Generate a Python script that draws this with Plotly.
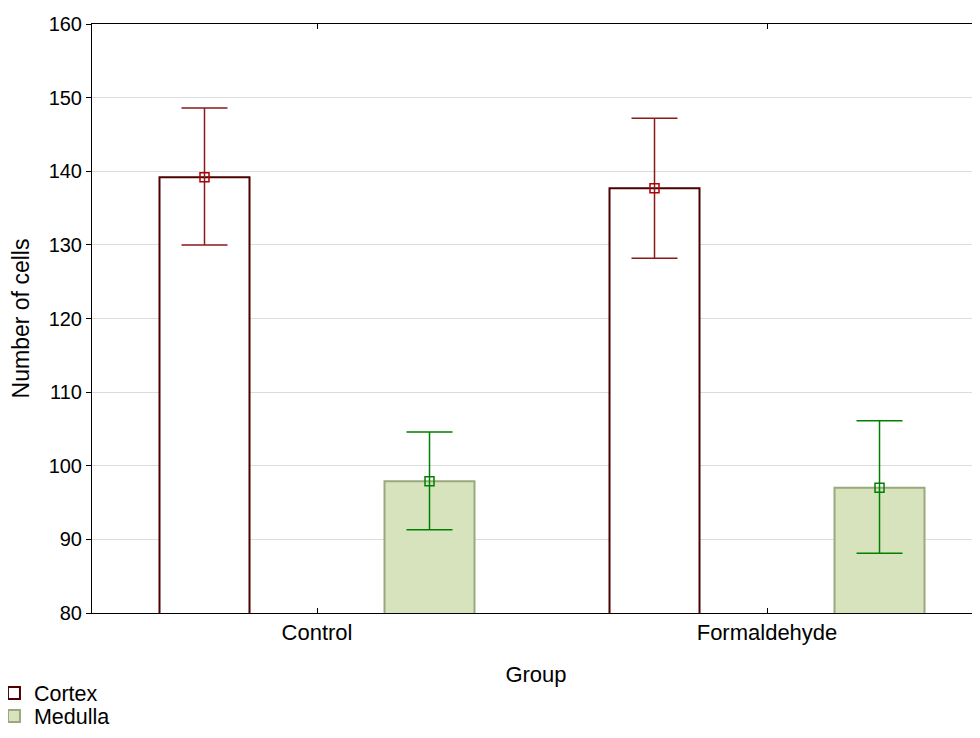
import plotly.graph_objects as go

groups = ["Control", "Formaldehyde"]
cortex_mean = [139.2, 137.7]
cortex_upper = [148.6, 147.2]
cortex_lower = [130.0, 128.2]
medulla_mean = [97.9, 97.0]
medulla_upper = [104.6, 106.1]
medulla_lower = [91.3, 88.1]
yticks = [80, 90, 100, 110, 120, 130, 140, 150, 160]

xpos = list(range(len(groups)))
FONT = "Liberation Sans, Arial, sans-serif"

def err(mean, up, lo):
    return ([u - m for m, u in zip(mean, up)], [m - l for m, l in zip(mean, lo)])

c_plus, c_minus = err(cortex_mean, cortex_upper, cortex_lower)
m_plus, m_minus = err(medulla_mean, medulla_upper, medulla_lower)

fig = go.Figure()
fig.add_trace(go.Bar(
    x=xpos, y=cortex_mean, name="Cortex", width=0.2, offset=-0.35, legend="legend",
    marker=dict(color="white", line=dict(color="#4d0000", width=2)),
))
fig.add_trace(go.Bar(
    x=xpos, y=medulla_mean, name="Medulla", width=0.2, offset=0.15, legend="legend2",
    marker=dict(color="#d7e3bd", line=dict(color="#9aa87e", width=2)),
))
fig.add_trace(go.Scatter(
    x=[p - 0.25 for p in xpos], y=cortex_mean, mode="markers", showlegend=False,
    marker=dict(symbol="square-open", size=9, color="#b00000", line=dict(width=1.5)),
    error_y=dict(type="data", symmetric=False, array=c_plus, arrayminus=c_minus,
                 color="#8b1a1a", thickness=1.5, width=23),
))
fig.add_trace(go.Scatter(
    x=[p + 0.25 for p in xpos], y=medulla_mean, mode="markers", showlegend=False,
    marker=dict(symbol="square-open", size=9, color="#008000", line=dict(width=1.5)),
    error_y=dict(type="data", symmetric=False, array=m_plus, arrayminus=m_minus,
                 color="#008000", thickness=1.5, width=23),
))

legend_style = dict(xanchor="left", yanchor="middle", bgcolor="rgba(0,0,0,0)",
                    font=dict(size=21.5), itemwidth=30)

fig.update_layout(
    width=972, height=722,
    margin=dict(l=84, r=0, t=16, b=117, autoexpand=False),
    paper_bgcolor="white", plot_bgcolor="white",
    barmode="overlay",
    font=dict(family=FONT, size=20, color="black"),
    showlegend=True,
    legend=dict(x=-0.1104, y=-0.1358, **legend_style),
    legend2=dict(x=-0.1104, y=-0.1749, **legend_style),
)
fig.update_xaxes(
    range=[-0.5, 1.4733], tickmode="array", tickvals=xpos, ticktext=groups,
    ticks="inside", ticklen=5, tickcolor="black", showline=True, linecolor="black",
    linewidth=1, mirror="ticks", showgrid=False, zeroline=False, automargin=True,
    tickfont=dict(size=22),
    title=dict(text="Group", font=dict(size=22), standoff=22),
)
fig.update_yaxes(
    range=[80, 160], tickmode="array", tickvals=yticks,
    ticks="outside", ticklen=5, tickcolor="black", showline=True, linecolor="black",
    linewidth=1, mirror=False, showgrid=True, gridcolor="#dcdcdc", zeroline=False,
    automargin=False, tickfont=dict(size=20),
    title=dict(text="Number of cells", font=dict(size=23)),
)

fig.write_html("out.html")
